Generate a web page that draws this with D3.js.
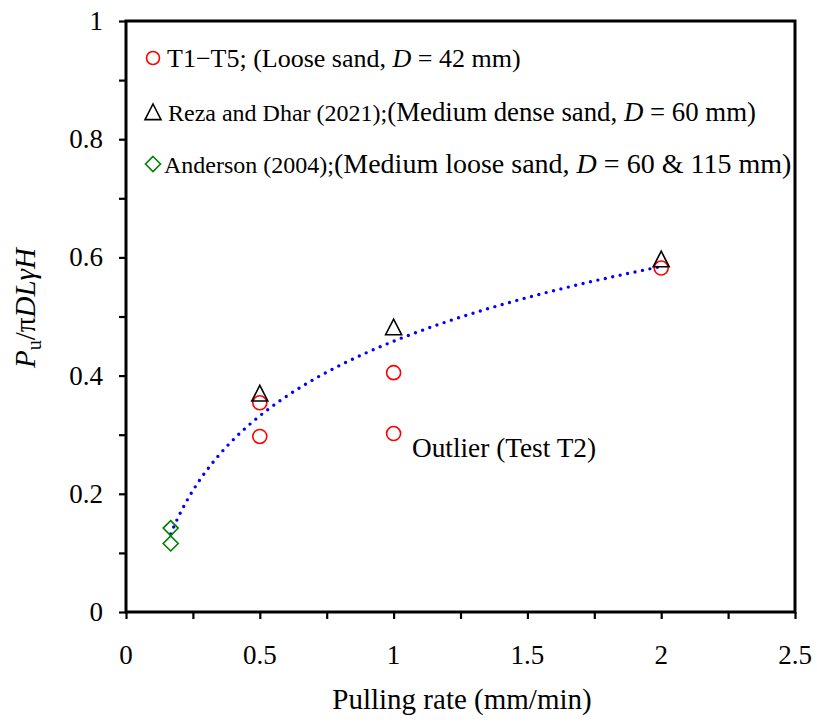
<!DOCTYPE html>
<html><head><meta charset="utf-8">
<script src="https://cdn.jsdelivr.net/npm/d3@7/dist/d3.min.js"></script>
<style>body{margin:0;background:#fff}svg{display:block}svg text{font-family:"Liberation Serif","Times New Roman",serif}</style>
</head><body><svg id="c" width="817" height="723"></svg>
<script>
// Data
const rateT = [0.5, 0.5, 1, 1, 2];
const valT = [0.354, 0.297, 0.405, 0.302, 0.582];
const rateReza = [0.5, 1, 2];
const valReza = [0.370, 0.482, 0.597];
const rateAnd = [0.167, 0.167];
const valAnd = [0.142, 0.116];
const outlierIndex = 3; // T2, excluded from the trend fit
const xTicks = [0, 0.5, 1, 1.5, 2, 2.5];
const yTicks = [0, 0.2, 0.4, 0.6, 0.8, 1];

const svg = d3.select("#c");
const L = 126, R = 795, T = 21, B = 612;
const x = d3.scaleLinear().domain([0, 2.5]).range([L, R]);
const y = d3.scaleLinear().domain([0, 1]).range([B, T]);

// logarithmic trend fit (excluding the outlier)
const fitPts = [];
rateT.forEach((r, i) => { if (i !== outlierIndex) fitPts.push([r, valT[i]]); });
rateReza.forEach((r, i) => fitPts.push([r, valReza[i]]));
rateAnd.forEach((r, i) => fitPts.push([r, valAnd[i]]));
const lx = fitPts.map(p => Math.log(p[0])), ly = fitPts.map(p => p[1]);
const mx = d3.mean(lx), my = d3.mean(ly);
const b = d3.sum(lx.map((v, i) => (v - mx) * (ly[i] - my))) / d3.sum(lx.map(v => (v - mx) ** 2));
const a = my - b * mx;
const xs = d3.range(0, 201).map(i => d3.min(rateAnd) + (2 - d3.min(rateAnd)) * i / 200);
svg.append("path").datum(xs)
  .attr("d", d3.line().x(d => x(d)).y(d => y(a + b * Math.log(d))))
  .attr("fill", "none").attr("stroke", "#0000ff").attr("stroke-width", 3.4)
  .attr("stroke-linecap", "round").attr("stroke-dasharray", "0,7.6");

// axes
const ga = svg.append("g");
ga.append("g").attr("transform", `translate(0,${B})`)
  .call(d3.axisBottom(x).tickValues(d3.range(0, 2.51, 0.25)).tickSize(7).tickFormat(""));
ga.append("g").attr("transform", `translate(${L},0)`)
  .call(d3.axisLeft(y).tickValues(d3.range(0, 1.01, 0.1)).tickSize(7).tickFormat(""));
ga.selectAll(".domain").remove();
ga.selectAll(".tick line").attr("stroke", "#000").attr("stroke-width", 2.2);
svg.append("rect").attr("x", L).attr("y", T).attr("width", R - L).attr("height", B - T)
  .attr("fill", "none").attr("stroke", "#000").attr("stroke-width", 3);

svg.selectAll(".xl").data(xTicks).enter().append("text")
  .attr("x", d => x(d)).attr("y", 664).attr("text-anchor", "middle")
  .attr("font-size", 27).text(d => d);
svg.selectAll(".yl").data(yTicks).enter().append("text")
  .attr("x", 103).attr("y", d => y(d) + 9).attr("text-anchor", "end")
  .attr("font-size", 27).text(d => d);

svg.append("text").attr("x", 462).attr("y", 709).attr("text-anchor", "middle")
  .attr("font-size", 29).text("Pulling rate (mm/min)");
const yl = svg.append("text").attr("transform", "translate(35,308) rotate(-90)")
  .attr("text-anchor", "middle").attr("font-size", 29);
yl.append("tspan").attr("font-style", "italic").text("P");
yl.append("tspan").attr("font-size", 20).attr("dy", 6).text("u");
yl.append("tspan").attr("dy", -6).text("/π");
yl.append("tspan").attr("font-style", "italic").text("DLγH");

// markers
function tri(cx, cy) { const s = 8; return `M${cx},${cy - s}L${cx + s},${cy + s * 0.95}L${cx - s},${cy + s * 0.95}Z`; }
function dia(cx, cy) { const s = 7.5; return `M${cx},${cy - s}L${cx + s},${cy}L${cx},${cy + s}L${cx - s},${cy}Z`; }
svg.selectAll(".t").data(rateT).enter().append("circle")
  .attr("cx", d => x(d)).attr("cy", (d, i) => y(valT[i])).attr("r", 7)
  .attr("fill", "none").attr("stroke", "#ff0000").attr("stroke-width", 1.6);
svg.selectAll(".r").data(rateReza).enter().append("path")
  .attr("d", (d, i) => tri(x(d), y(valReza[i])))
  .attr("fill", "none").attr("stroke", "#000").attr("stroke-width", 1.6);
svg.selectAll(".a").data(rateAnd).enter().append("path")
  .attr("d", (d, i) => dia(x(d), y(valAnd[i])))
  .attr("fill", "none").attr("stroke", "#008000").attr("stroke-width", 1.6);

svg.append("text").attr("x", 412).attr("y", 457).attr("font-size", 27.3).text("Outlier (Test T2)");

// legend
svg.append("circle").attr("cx", 153).attr("cy", 58).attr("r", 6.5)
  .attr("fill", "none").attr("stroke", "#ff0000").attr("stroke-width", 1.6);
const t1 = svg.append("text").attr("x", 167).attr("y", 66.5).attr("font-size", 26);
t1.append("tspan").text("T1\u2212T5; (Loose sand, ");
t1.append("tspan").attr("font-style", "italic").text("D");
t1.append("tspan").text(" = 42 mm)");

svg.append("path").attr("d", tri(153, 112)).attr("fill", "none").attr("stroke", "#000").attr("stroke-width", 1.6);
const t2 = svg.append("text").attr("x", 168).attr("y", 120.5).attr("font-size", 26.8);
t2.append("tspan").attr("font-size", 24).text("Reza and Dhar (2021);");
t2.append("tspan").text("(Medium dense sand, ");
t2.append("tspan").attr("font-style", "italic").text("D");
t2.append("tspan").text(" = 60 mm)");

svg.append("path").attr("d", dia(153, 164)).attr("fill", "none").attr("stroke", "#008000").attr("stroke-width", 1.6);
const t3 = svg.append("text").attr("x", 164).attr("y", 173).attr("font-size", 28);
t3.append("tspan").attr("font-size", 24).text("Anderson (2004);");
t3.append("tspan").text("(Medium loose sand, ");
t3.append("tspan").attr("font-style", "italic").text("D");
t3.append("tspan").text(" = 60 & 115 mm)");
</script></body></html>
